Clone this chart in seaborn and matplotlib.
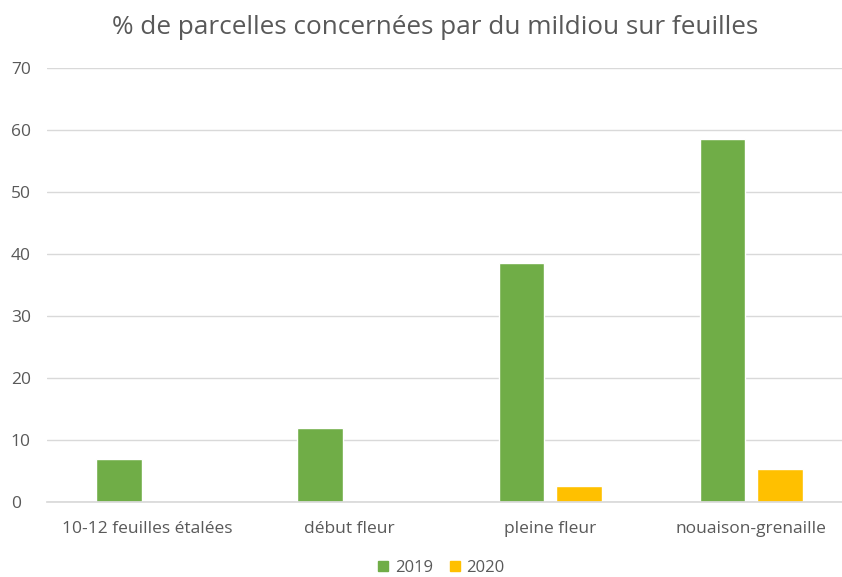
import matplotlib
matplotlib.use("Agg")
import matplotlib.pyplot as plt
import seaborn as sns
import pandas as pd
from matplotlib.patches import Patch

categories = ["10-12 feuilles étalées", "début fleur", "pleine fleur", "nouaison-grenaille"]
series_2019 = [7, 12, 38.6, 58.5]
series_2020 = [0, 0, 2.6, 5.3]
years = ["2019", "2020"]
yticks = [0, 10, 20, 30, 40, 50, 60, 70]

df = pd.DataFrame({
    "cat": categories * 2,
    "val": series_2019 + series_2020,
    "year": [years[0]] * 4 + [years[1]] * 4,
})

sns.set_theme(style="white")
plt.rcParams["font.family"] = ["Open Sans", "DejaVu Sans"]
txt = "#595959"

fig = plt.figure(figsize=(8.42, 5.77), dpi=100)
ax = fig.add_axes([47/842, 75/577, 805/842, 434/577])
sns.barplot(data=df, x="cat", y="val", hue="year", palette=["#70AD47", "#FFC000"],
            width=0.571, gap=0.21, saturation=1, ax=ax, legend=False)
ax.set_ylim(0, 70)
ax.set_yticks(yticks)
ax.set_xlim(-0.5, 3.5)
ax.yaxis.grid(True, color="#D9D9D9", linewidth=1)
ax.set_axisbelow(True)
for s in ["top", "right", "left"]:
    ax.spines[s].set_visible(False)
ax.spines["bottom"].set_color("#D9D9D9")
ax.set_xlabel("")
ax.set_ylabel("")
ax.tick_params(axis="both", colors=txt, labelsize=12.5, length=0)
ax.tick_params(axis="x", pad=14)
ax.tick_params(axis="y", pad=26)
for lab in ax.get_yticklabels():
    lab.set_horizontalalignment("left")
fig.text(435.5/842, 1 - 27/577, "% de parcelles concernées par du mildiou sur feuilles",
         ha="center", va="center", fontsize=18.85, color=txt)

handles = [Patch(color="#70AD47", label=years[0]), Patch(color="#FFC000", label=years[1])]
fig.legend(handles=handles, loc="center", bbox_to_anchor=(441.5/842, 1 - 568/577), ncol=2,
           frameon=False, fontsize=12, labelcolor=txt, handlelength=0.6, handleheight=0.6,
           handletextpad=0.4, columnspacing=1.0, borderpad=0)
fig.savefig("out.png", dpi=100)
